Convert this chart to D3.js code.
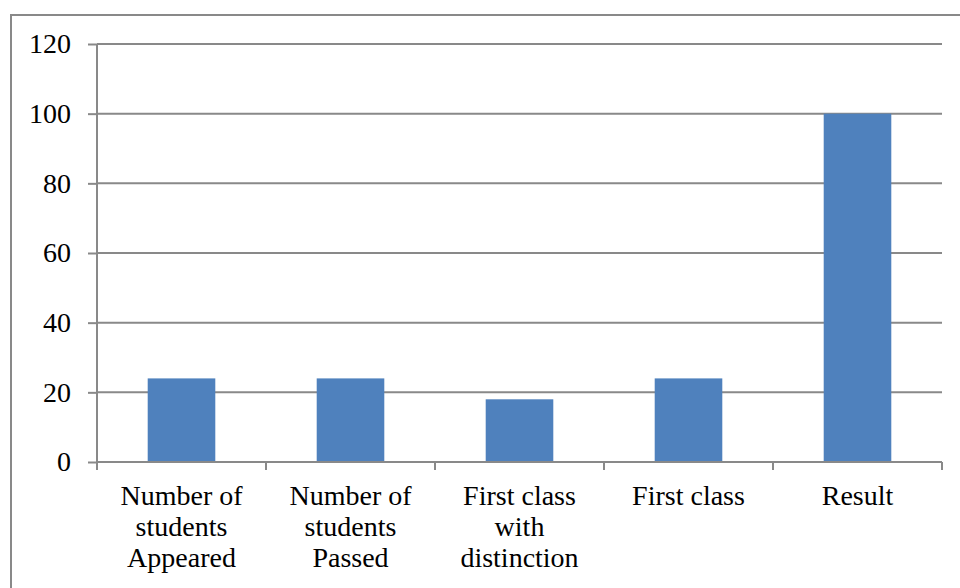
<!DOCTYPE html>
<html>
<head>
<meta charset="utf-8">
<script src="https://cdn.jsdelivr.net/npm/d3@7"></script>
<style>
  body { margin: 0; background: #fff; }
  svg text { font-family: "Liberation Serif", "Times New Roman", serif; fill: #000; }
</style>
</head>
<body>
<div id="chart"></div>
<script>
// chart data
var categories = ["Number of students Appeared", "Number of students Passed",
  "First class with distinction", "First class", "Result"];
var values = [24, 24, 18, 24, 100];
var yTicks = [0, 20, 40, 60, 80, 100, 120];

var W = 960, H = 588;
var margin = { top: 44, right: 18, bottom: 126, left: 97 },
  width = 942 - margin.left,
  height = 462 - margin.top;

var gray = "#898989";
var fontSize = 28;

var svg = d3.select("#chart")
  .append("svg")
  .attr("width", W)
  .attr("height", H);

// outer frame (runs past the right and bottom edges)
svg.append("rect")
  .attr("x", 11).attr("y", 15)
  .attr("width", 1000).attr("height", 700)
  .attr("fill", "none")
  .attr("stroke", gray)
  .attr("stroke-width", 2);

var g = svg.append("g")
  .attr("transform", "translate(" + margin.left + "," + margin.top + ")");

var x = d3.scaleBand()
  .domain(categories)
  .range([0, width])
  .paddingInner(0.6)
  .paddingOuter(0.3);

var xOuter = d3.scaleBand()
  .domain(categories)
  .range([0, width]);

var y = d3.scaleLinear()
  .domain([0, 120])
  .range([height, 0]);

// gridlines
g.selectAll(".grid")
  .data(yTicks.filter(d => d > 0))
  .enter().append("line")
  .attr("x1", 0).attr("x2", width)
  .attr("y1", d => y(d)).attr("y2", d => y(d))
  .attr("stroke", gray)
  .attr("stroke-width", 2);

// bars
g.selectAll(".bar")
  .data(values)
  .enter().append("rect")
  .attr("x", (d, i) => x(categories[i]))
  .attr("y", d => y(d))
  .attr("width", x.bandwidth())
  .attr("height", d => height - y(d))
  .attr("fill", "#4F81BD");

// y axis
var yAxis = g.append("g")
  .call(d3.axisLeft(y).tickValues(yTicks).tickSize(9).tickPadding(17));
yAxis.select(".domain").attr("stroke", gray).attr("stroke-width", 2)
  .attr("d", "M0," + height + "V0");
yAxis.selectAll(".tick line").attr("stroke", gray).attr("stroke-width", 2);
yAxis.selectAll(".tick text")
  .style("font-family", "Liberation Serif, serif")
  .attr("font-size", fontSize)
  .attr("fill", "#000");

// x axis line + boundary ticks
g.append("line")
  .attr("x1", 0).attr("x2", width)
  .attr("y1", height).attr("y2", height)
  .attr("stroke", gray).attr("stroke-width", 2);

var bounds = categories.map(c => xOuter(c)).concat([width]);
g.selectAll(".xtick")
  .data(bounds)
  .enter().append("line")
  .attr("x1", d => d).attr("x2", d => d)
  .attr("y1", height).attr("y2", height + 8)
  .attr("stroke", gray).attr("stroke-width", 2);

// category labels, wrapped
var maxW = 150;
var labels = g.selectAll(".xlabel")
  .data(categories)
  .enter().append("text")
  .attr("text-anchor", "middle")
  .attr("font-size", fontSize)
  .attr("transform", d => "translate(" + (xOuter(d) + xOuter.bandwidth() / 2) + "," + (height + 43) + ")");

labels.each(function(d) {
  var text = d3.select(this);
  var words = d.split(" ");
  var lines = [];
  var line = [];
  var probe = text.append("tspan");
  words.forEach(function(w) {
    line.push(w);
    probe.text(line.join(" "));
    if (probe.node().getComputedTextLength() > maxW && line.length > 1) {
      line.pop();
      lines.push(line.join(" "));
      line = [w];
    }
  });
  lines.push(line.join(" "));
  probe.remove();
  lines.forEach(function(l, i) {
    text.append("tspan").attr("x", 0).attr("y", i * 31).text(l);
  });
});
</script>
</body>
</html>
